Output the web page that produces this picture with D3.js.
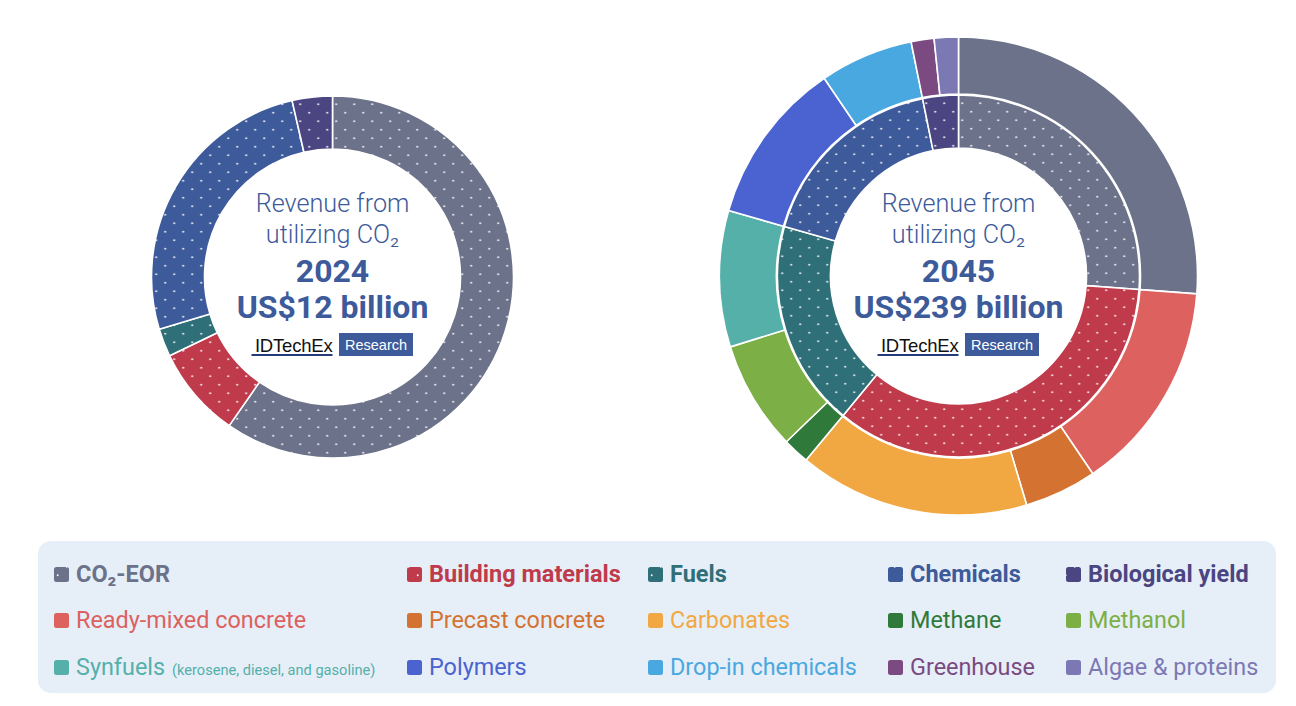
<!DOCTYPE html>
<html><head><meta charset="utf-8">
<script src="https://cdn.jsdelivr.net/npm/d3@7"></script>
<style>body{margin:0;background:#fff;} svg{display:block;font-family:Roboto, "Noto Sans", sans-serif;}</style>
</head><body><svg id="chart" width="1296" height="706"></svg>
<script>
// ---------- data ----------
const categories = ["CO₂-EOR", "Building materials", "Fuels", "Chemicals", "Biological yield"];
const categoryColors = ["#6b7289", "#bf3a4a", "#2f6f78", "#3d5a9a", "#4b4582"];
const revenue2024 = [7.16, 0.98, 0.30, 3.13, 0.43];          // US$ billion
const subcategories = ["CO₂-EOR", "Ready-mixed concrete", "Precast concrete", "Carbonates", "Methane",
  "Methanol", "Synfuels", "Polymers", "Drop-in chemicals", "Greenhouse", "Algae & proteins"];
const subParent = [0, 1, 1, 1, 2, 2, 2, 3, 3, 4, 4];
const subColors = ["#6b7289", "#dd615e", "#d47331", "#f2a842", "#2f7a3a", "#7cb046", "#55b0aa",
  "#4a63d0", "#4aa8e0", "#7a4a80", "#7c78b4"];
const revenue2045 = [62.6, 34.2, 11.7, 37.3, 4.3, 17.7, 22.0, 26.5, 15.1, 3.7, 3.9]; // US$ billion
const years = ["2024", "2045"];
const totals = ["US$12 billion", "US$239 billion"];
const legendRow2 = [1, 2, 3, 4, 5];
const legendRow3 = [6, 7, 8, 9, 10];
const synfuelsNote = "(kerosene, diesel, and gasoline)";

// ---------- setup ----------
const svg = d3.select("#chart");
const defs = svg.append("defs");
const pat = defs.append("pattern").attr("id", "dots").attr("patternUnits", "userSpaceOnUse")
  .attr("width", 18).attr("height", 17);
pat.append("circle").attr("cx", 12.7).attr("cy", 5.7).attr("r", 0.95).attr("fill", "#fff");
pat.append("circle").attr("cx", 3.7).attr("cy", 14.2).attr("r", 0.95).attr("fill", "#fff");

const pie = d3.pie().sort(null).value(d => d.v).startAngle(0).endAngle(2 * Math.PI);
const blue = "#3d5a9a";

function ring(g, data, r0, r1, dotted) {
  const arc = d3.arc().innerRadius(r0).outerRadius(r1);
  const arcs = pie(data);
  g.selectAll(null).data(arcs).join("path")
    .attr("d", arc).attr("fill", d => d.data.c)
    .attr("stroke", "#fff").attr("stroke-width", 1.6).attr("stroke-linejoin", "round");
  if (dotted) {
    g.selectAll(null).data(arcs).join("path")
      .attr("d", arc).attr("fill", "url(#dots)").attr("stroke", "none");
  }
}

const inner2024 = categories.map((c, i) => ({ v: revenue2024[i], c: categoryColors[i] }));
const inner2045 = categories.map((c, i) => ({
  v: d3.sum(revenue2045.filter((_, j) => subParent[j] === i)), c: categoryColors[i] }));
const outer2045 = subcategories.map((s, i) => ({ v: revenue2045[i], c: subColors[i] }));

const centers = [[332.5, 277], [958.5, 276]];

// Left donut
const gL = svg.append("g").attr("transform", `translate(${centers[0][0]},${centers[0][1]})`);
ring(gL, inner2024, 128, 181, true);
// Right donut
const gR = svg.append("g").attr("transform", `translate(${centers[1][0]},${centers[1][1]})`);
ring(gR, outer2045, 182, 239, false);
ring(gR, inner2045, 128, 181, true);

// Center texts
centers.forEach(([cx, cy], k) => {
  const g = svg.append("g");
  g.append("text").attr("x", cx).attr("y", 212).attr("text-anchor", "middle")
    .attr("font-size", 25.2).attr("font-weight", 300).attr("fill", blue).text("Revenue from");
  g.append("text").attr("x", cx).attr("y", 243).attr("text-anchor", "middle")
    .attr("font-size", 25.2).attr("font-weight", 300).attr("fill", blue).text("utilizing CO₂");
  g.append("text").attr("x", cx).attr("y", 282).attr("text-anchor", "middle")
    .attr("font-size", 32).attr("font-weight", 700).attr("fill", blue).text(years[k]);
  g.append("text").attr("x", cx).attr("y", 318).attr("text-anchor", "middle")
    .attr("font-size", 32).attr("font-weight", 700).attr("fill", blue).text(totals[k]);
  // logo
  g.append("text").attr("x", cx).attr("y", 351.5).attr("text-anchor", "end")
    .attr("font-family", "Liberation Sans, Arial, sans-serif").attr("font-size", 18.5)
    .attr("fill", "#111").attr("letter-spacing", -0.2).text("IDTechEx");
  g.append("rect").attr("x", cx - 81).attr("y", 354).attr("width", 81).attr("height", 2)
    .attr("fill", "#253a78");
  g.append("rect").attr("x", cx + 6.5).attr("y", 333).attr("width", 74).attr("height", 23)
    .attr("fill", blue);
  g.append("text").attr("x", cx + 43.5).attr("y", 350).attr("text-anchor", "middle")
    .attr("font-family", "Liberation Sans, Arial, sans-serif").attr("font-size", 14.5)
    .attr("fill", "#fff").text("Research");
});

// Legend
svg.append("rect").attr("x", 38).attr("y", 541).attr("width", 1238).attr("height", 152)
  .attr("rx", 13).attr("fill", "#e6eef8");
const colX = [54, 407, 648, 888, 1066];
const rowY = [582, 628, 675];
const lg = svg.append("g");
function legendItem(x, base, name, color, bold, dotted) {
  lg.append("rect").attr("x", x).attr("y", base - 15).attr("width", 15).attr("height", 15)
    .attr("rx", 2.5).attr("fill", color);
  if (dotted) lg.append("rect").attr("x", x).attr("y", base - 15).attr("width", 15).attr("height", 15)
    .attr("rx", 2.5).attr("fill", "url(#dots)");
  return lg.append("text").attr("x", x + 22).attr("y", base).attr("font-size", bold ? 23.5 : 23.4)
    .attr("font-weight", bold ? 700 : 400).attr("fill", color).text(name);
}
categories.forEach((c, i) => legendItem(colX[i], rowY[0], c, categoryColors[i], true, true));
legendRow2.forEach((s, i) => legendItem(colX[i], rowY[1], subcategories[s], subColors[s], false, false));
legendRow3.forEach((s, i) => {
  const t = legendItem(colX[i], rowY[2], subcategories[s], subColors[s], false, false);
  if (s === 6) t.append("tspan").attr("font-size", 14.6).attr("dx", 7).text(synfuelsNote);
});
</script></body></html>
